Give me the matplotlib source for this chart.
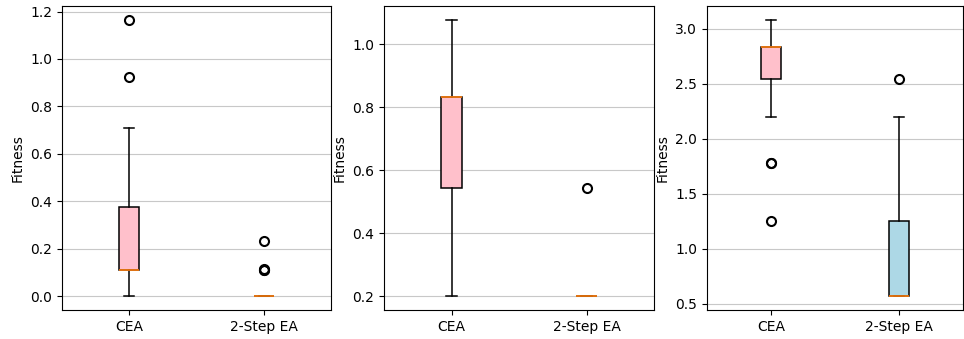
import matplotlib
matplotlib.use("Agg")
import matplotlib.pyplot as plt

labels = ["CEA", "2-Step EA"]
colors = ["pink", "lightblue"]

# panel stats: (whislo, q1, med, q3, whishi, fliers) for CEA and 2-Step EA
p1_cea = dict(whislo=0.0, q1=0.11, med=0.11, q3=0.375, whishi=0.71, fliers=[0.925, 1.165])
p1_two = dict(whislo=0.0, q1=0.0, med=0.0, q3=0.0, whishi=0.0, fliers=[0.11, 0.11, 0.113, 0.232])
p2_cea = dict(whislo=0.2, q1=0.545, med=0.833, q3=0.833, whishi=1.078, fliers=[])
p2_two = dict(whislo=0.2, q1=0.2, med=0.2, q3=0.2, whishi=0.2, fliers=[0.545])
p3_cea = dict(whislo=2.2, q1=2.545, med=2.833, q3=2.833, whishi=3.08, fliers=[1.78, 1.775, 1.25])
p3_two = dict(whislo=0.567, q1=0.567, med=0.567, q3=1.25, whishi=2.2, fliers=[2.545])

panels = [(p1_cea, p1_two), (p2_cea, p2_two), (p3_cea, p3_two)]

W, H = 964, 339
fig = plt.figure(figsize=(W / 100, H / 100), dpi=100)
rects = [(62, 331), (384, 654), (707, 963)]
top, bottom = 6, 310

for (x0, x1), (a, b) in zip(rects, panels):
    ax = fig.add_axes([x0 / W, 1 - bottom / H, (x1 - x0) / W, (bottom - top) / H])
    stats = []
    for s, lab in zip((a, b), labels):
        d = dict(s)
        d["label"] = lab
        stats.append(d)
    bp = ax.bxp(stats, patch_artist=True, widths=0.15,
                boxprops=dict(linewidth=1.1),
                whiskerprops=dict(linewidth=1.1),
                capprops=dict(linewidth=1.1),
                medianprops=dict(linewidth=1.2),
                flierprops=dict(marker="o", markerfacecolor="none", markeredgecolor="black",
                                markersize=6.5, markeredgewidth=1.5))
    for patch, c in zip(bp["boxes"], colors):
        patch.set_facecolor(c)
    ax.yaxis.grid(True, color="#c8c8c8")
    ax.set_axisbelow(True)
    ax.set_ylabel("Fitness")

fig.savefig("out.png", dpi=100)
